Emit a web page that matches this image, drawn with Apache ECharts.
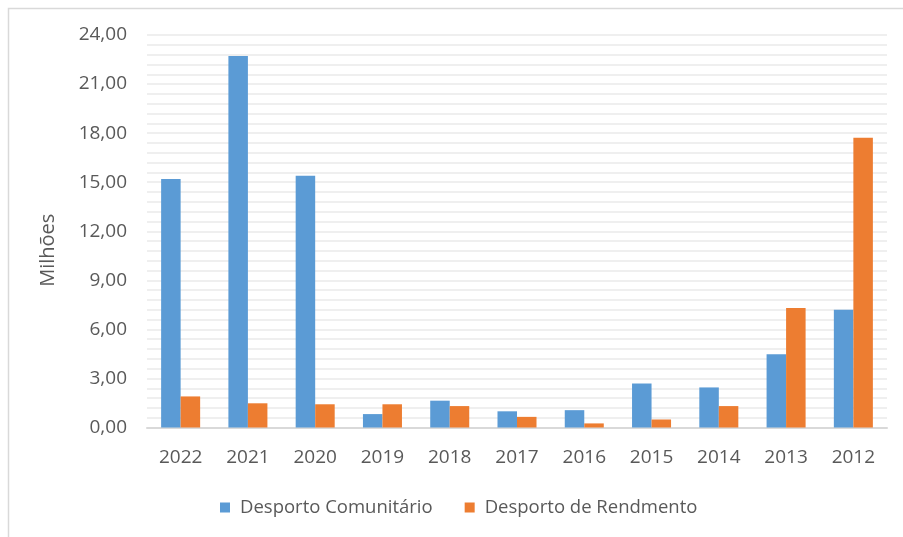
<!DOCTYPE html>
<html>
<head>
<meta charset="utf-8">
<script src="https://cdn.jsdelivr.net/npm/echarts@6/dist/echarts.min.js"></script>
<style>
html,body{margin:0;padding:0;background:#fff;}
#c{width:903px;height:537px;}
</style>
</head>
<body>
<div id="c"></div>
<script>
var categories = ['2022','2021','2020','2019','2018','2017','2016','2015','2014','2013','2012'];
var comunitario = [15.2, 22.72, 15.39, 0.82, 1.64, 0.99, 1.06, 2.69, 2.45, 4.48, 7.2];
var rendimento = [1.9, 1.48, 1.42, 1.42, 1.31, 0.65, 0.25, 0.49, 1.31, 7.3, 17.72];
var seriesNames = ['Desporto Comunitário', 'Desporto de Rendmento'];
var yAxisTitle = 'Milhões';

var FONT = '"Open Sans", "Noto Sans", sans-serif';
var chart = echarts.init(document.getElementById('c'), null, {renderer: 'canvas'});
chart.setOption({
  animation: false,
  backgroundColor: '#ffffff',
  graphic: [{
    type: 'rect',
    shape: {x: 8.5, y: 8.5, width: 1000, height: 1000},
    style: {fill: 'none', stroke: '#d9d9d9', lineWidth: 1.5},
    z: -1
  }],
  grid: {left: 147, right: 16, top: 35, bottom: 109.5},
  legend: {
    data: seriesNames,
    bottom: 15,
    left: 215,
    icon: 'rect',
    itemWidth: 10,
    itemHeight: 10,
    itemGap: 32,
    textStyle: {color: '#595959', fontSize: 18.5, fontFamily: FONT, padding: [0, 0, 0, 5]}
  },
  xAxis: {
    type: 'category',
    data: categories,
    axisLine: {show: true, lineStyle: {color: '#d9d9d9', width: 2}},
    axisTick: {show: false},
    axisLabel: {color: '#595959', fontSize: 19, fontFamily: FONT, margin: 21}
  },
  yAxis: {
    type: 'value',
    min: 0,
    max: 24,
    interval: 3,
    name: yAxisTitle,
    nameLocation: 'middle',
    nameRotate: 90,
    nameGap: 89,
    nameTextStyle: {color: '#595959', fontSize: 20, fontFamily: FONT, padding: [0, 38, 0, 0]},
    axisLine: {show: false},
    axisTick: {show: false},
    axisLabel: {
      color: '#595959', fontSize: 19, fontFamily: FONT, margin: 20,
      formatter: function (v) { return v.toFixed(2).replace('.', ','); }
    },
    splitLine: {show: true, lineStyle: {color: '#efefef', width: 2}},
    minorTick: {show: false, splitNumber: 5},
    minorSplitLine: {show: true, lineStyle: {color: '#efefef', width: 2}}
  },
  series: [{
    name: seriesNames[0],
    type: 'bar',
    data: comunitario,
    itemStyle: {color: '#5b9bd5'},
    barGap: '0%',
    barCategoryGap: '42%'
  }, {
    name: seriesNames[1],
    type: 'bar',
    data: rendimento,
    itemStyle: {color: '#ed7d31'},
    barGap: '0%',
    barCategoryGap: '42%'
  }]
});
</script>
</body>
</html>
